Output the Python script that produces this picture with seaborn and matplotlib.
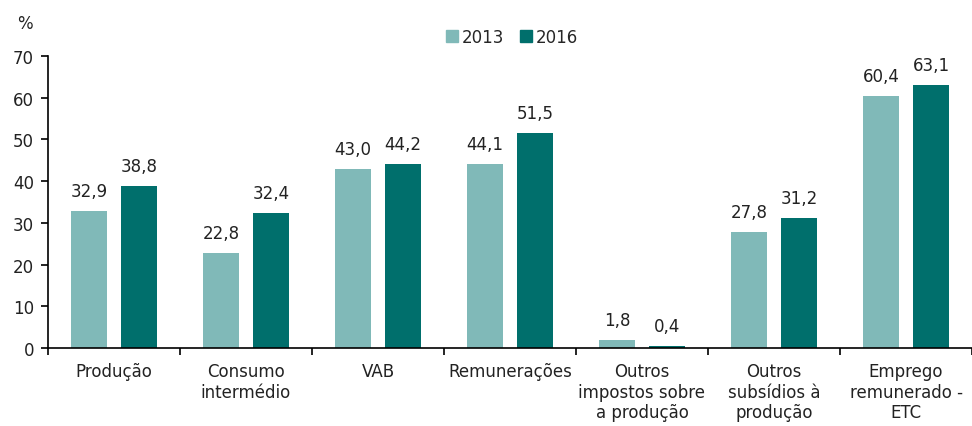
import matplotlib.pyplot as plt
import numpy as np
import pandas as pd
import seaborn as sns

categories = ["Produção", "Consumo\nintermédio", "VAB", "Remunerações",
              "Outros\nimpostos sobre\na produção", "Outros\nsubsídios à\nprodução",
              "Emprego\nremunerado -\nETC"]
values_2013 = [32.9, 22.8, 43.0, 44.1, 1.8, 27.8, 60.4]
values_2016 = [38.8, 32.4, 44.2, 51.5, 0.4, 31.2, 63.1]
years = ["2013", "2016"]
colors = {"2013": "#80b9b8", "2016": "#006f6c"}

df = pd.DataFrame({
    "cat": categories * 2,
    "ano": ["2013"] * len(categories) + ["2016"] * len(categories),
    "val": values_2013 + values_2016,
})

sns.set_theme(style="white")
plt.rcParams["font.family"] = ["DejaVu Sans"]

fig = plt.figure(figsize=(9.72, 4.27), dpi=100)
ax = fig.add_axes([48 / 972, 78 / 427, 1 - 48 / 972, (349 - 57) / 427])

sns.barplot(data=df, x="cat", y="val", hue="ano", hue_order=years, palette=colors,
            width=0.76, gap=0.28, saturation=1, legend=False, linewidth=0, ax=ax)

for cont in ax.containers:
    ax.bar_label(cont, labels=[f"{v:.1f}".replace(".", ",") for v in cont.datavalues],
                 padding=8, fontsize=12, color="#222222")

ax.set_ylim(0, 70)
ax.set_yticks(range(0, 71, 10))
ax.set_xlim(-0.5, 6.45)
ax.set_xlabel("")
ax.set_ylabel("")
ax.set_xticks(np.arange(len(categories)))
ax.set_xticklabels(categories, fontsize=12, color="#222222", linespacing=1.2)
ax.set_xticks(np.arange(-0.5, len(categories), 1), minor=True)
ax.tick_params(axis="x", which="major", length=0, pad=10)
ax.tick_params(axis="x", which="minor", length=5, width=1.2, color="black", direction="out", bottom=True)
ax.tick_params(axis="y", length=5, width=1.2, color="black", direction="out", left=True, labelsize=12,
               labelcolor="#222222", pad=5)
for s in ["top", "right"]:
    ax.spines[s].set_visible(False)
for s in ["left", "bottom"]:
    ax.spines[s].set_color("black")
    ax.spines[s].set_linewidth(1.2)

handles = [plt.Rectangle((0, 0), 1, 1, color=colors[y]) for y in years]
fig.legend(handles, years, loc="center", bbox_to_anchor=(512 / 972, 1 - 38 / 427), ncol=2,
           frameon=False, fontsize=12, handlelength=0.7, handleheight=0.7, handletextpad=0.2,
           columnspacing=1.0)
fig.text(25 / 972, 1 - 24 / 427, "%", fontsize=12, color="#222222", ha="center", va="center")

fig.savefig("out.png", dpi=100)
